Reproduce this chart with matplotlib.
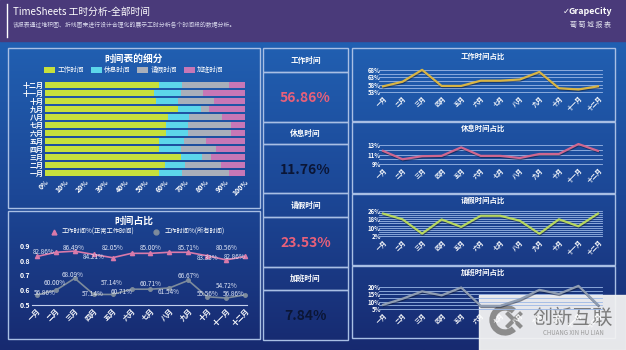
import matplotlib.pyplot as plt
import matplotlib.patheffects as pe
import numpy as np
from matplotlib.colors import LinearSegmentedColormap
from matplotlib.patches import Rectangle, Arc
from matplotlib.lines import Line2D

plt.rcParams['font.family'] = ['Noto Sans CJK SC', 'DejaVu Sans']

# 数据
months = ['一月', '二月', '三月', '四月', '五月', '六月', '七月', '八月', '九月', '十月', '十一月', '十二月']
work = [56.86, 60.00, 68.09, 57.14, 57.14, 60.71, 60.71, 61.54, 66.67, 55.56, 54.72, 56.86]
rest = [11.76, 10.00, 10.64, 10.71, 12.50, 10.71, 10.71, 10.26, 11.11, 11.11, 13.21, 11.76]
leave = [23.53, 18.00, 4.26, 17.86, 10.71, 21.43, 21.43, 16.67, 4.17, 18.06, 11.32, 23.53]
overtime = [7.84, 12.00, 17.02, 14.29, 19.64, 7.14, 7.14, 11.54, 18.06, 15.28, 20.75, 7.84]
work_normal = [82.86, 85.71, 86.49, 84.21, 82.05, 85.00, 85.00, 85.71, 85.71, 83.33, 80.56, 82.86]

kpi_names = ['工作时间', '休息时间', '请假时间', '加班时间']
kpi_values = ['56.86%', '11.76%', '23.53%', '7.84%']

# 标签偏移(像素), None = 不显示
pink_off = [(7, -4.5), None, (-1, -3), (0, 3), (0, -9.5), None, (0, -5.5), None,
            (0, -4.5), (0, 2.5), (1, -11.5), (-10, 0.5)]
gray_off = [(8, -2), (-1, -7), (-2, -3.5), (-1, -0.5), (-0.5, -11.5), (-9.5, 3), (0, -5),
            (-1, 4), (0, -4.5), (0, -3), (1, -12), (-11, -1)]

W, H = 626, 350
fig = plt.figure(figsize=(6.26, 3.5), dpi=100)


def box(x0, y0, x1, y1):
    # 像素坐标 -> figure 坐标
    return [x0 / W, 1 - y1 / H, (x1 - x0) / W, (y1 - y0) / H]


# 背景
bg = fig.add_axes([0, 0, 1, 1])
grad = np.linspace(0, 1, 256).reshape(-1, 1)
cmap = LinearSegmentedColormap.from_list('bg', ['#2160b2', '#1c4796', '#172a70'])
bg.imshow(grad, extent=[0, W, H, 40], aspect='auto', cmap=cmap)
bg.add_patch(Rectangle((0, 0), W, 41, color='#4a3a7a'))
bg.set_xlim(0, W)
bg.set_ylim(H, 0)
bg.axis('off')

bg.plot([7, 7], [4, 37], color='white', lw=1)
bg.text(13, 12, 'TimeSheets 工时分析-全部时间', color='white', fontsize=7, va='center')
bg.text(13, 25, '该报表通过堆积图、折线图来进行设计合理化的展示工时分析各个时间段的数据分析。',
        color='#d8d8ec', fontsize=4.2, va='center')
bg.text(612, 11, 'GrapeCity', color='white', fontsize=6.3, fontweight='bold', va='center', ha='right')
bg.text(566, 11, '✓', color='white', fontsize=6, va='center', ha='center', family='DejaVu Sans')
bg.text(590, 25, '葡 萄 城 报 表', color='#e0e0ec', fontsize=5, va='center', ha='center')

edge = '#a9bfe4'
# 面板边框
for (x0, y0, x1, y1) in [(8, 48, 260, 208), (8, 211, 260, 339),
                         (352, 48, 615, 121), (352, 122, 615, 193),
                         (352, 194, 615, 265), (352, 266, 615, 338)]:
    bg.add_patch(Rectangle((x0, y0), x1 - x0, y1 - y0, fill=False, ec=edge, lw=1))

# KPI 列
heads = [(48, 72), (122, 144), (193, 217), (267, 290)]
cells = [(72, 122), (144, 193), (217, 267), (290, 340)]
val_colors = ['#e8607a', '#0b1636', '#e8607a', '#0b1636']
for (h0, h1), (c0, c1), name, val, vc in zip(heads, cells, kpi_names, kpi_values, val_colors):
    bg.add_patch(Rectangle((263, h0), 85, h1 - h0, fill=False, ec=edge, lw=1))
    bg.add_patch(Rectangle((263, c0), 85, c1 - c0, fill=False, ec=edge, lw=1))
    bg.text(305.5, (h0 + h1) / 2, name, color='white', fontsize=5.5, fontweight='bold',
            ha='center', va='center')
    bg.text(305.5, (c0 + c1) / 2 + 1, val, color=vc, fontsize=10, fontweight='bold',
            ha='center', va='center')

# 堆积条形图
bar_colors = ['#c6e03c', '#5cd6ea', '#a9afba', '#c777b6']
ax1 = fig.add_axes(box(45, 81, 245, 177))
ax1.set_facecolor('none')
yy = np.arange(len(months))
parts = np.array([work, rest, leave, overtime])
parts = parts / parts.sum(axis=0) * 100
left = np.zeros(len(months))
for vals, c, name in zip(parts, bar_colors, kpi_names):
    ax1.barh(yy, vals, left=left, height=0.74, color=c, label=name)
    left += vals
ax1.set_xlim(0, 100)
ax1.set_ylim(-0.5, 11.5)
ax1.set_xticks(np.arange(0, 101, 10), [f'{t}%' for t in range(0, 101, 10)])
ax1.set_yticks(yy, months)
ax1.tick_params(length=0, colors='white', labelsize=5, pad=1)
for lb in ax1.get_xticklabels():
    lb.set_rotation(45)
    lb.set_ha('right')
    lb.set_rotation_mode('anchor')
    lb.set_fontweight('bold')
for lb in ax1.get_yticklabels():
    lb.set_fontweight('bold')
for s in ax1.spines.values():
    s.set_visible(False)
ax1.legend(loc='center', bbox_to_anchor=(134 / W, 1 - 70 / H), bbox_transform=fig.transFigure,
           ncol=4, frameon=False, fontsize=4.8, labelcolor='white', handlelength=1.6,
           handleheight=1.1, columnspacing=1.0, handletextpad=0.4)
bg.text(134, 59, '时间表的细分', color='white', fontsize=7, fontweight='bold', ha='center', va='center')

# 时间占比折线
x = np.arange(len(months))
ax2 = fig.add_axes(box(32, 243, 247, 305))
ax2.set_facecolor('none')
wn = np.array(work_normal) / 100
wa = np.array(work) / 100
ax2.plot(x, wn, color='#d97aaa', lw=1.2, marker='^', ms=3, clip_on=False)
ax2.plot(x, wa, color='#7d8b9c', lw=1.2, marker='o', ms=2.5, clip_on=False)
for i in range(len(months)):
    if pink_off[i] is not None:
        dx, dy = pink_off[i]
        ax2.annotate(f'{work_normal[i]:.2f}%', (x[i], wn[i]), xytext=(dx * 0.72, -dy * 0.72),
                     textcoords='offset points', ha='center', va='center', fontsize=4.6,
                     color='#dfe6f6', annotation_clip=False)
    dx, dy = gray_off[i]
    ax2.annotate(f'{work[i]:.2f}%', (x[i], wa[i]), xytext=(dx * 0.72, -dy * 0.72),
                 textcoords='offset points', ha='center', va='center', fontsize=4.6,
                 color='#dfe6f6', annotation_clip=False)
ax2.set_xlim(-0.26, 11.1)
ax2.set_ylim(0.5, 0.92)
ax2.set_yticks([0.5, 0.6, 0.7, 0.8, 0.9], ['0.5', '0.6', '0.7', '0.8', '0.9'])
ax2.set_xticks(x, months)
ax2.tick_params(length=0, colors='white', labelsize=5, pad=1.5)
for lb in ax2.get_xticklabels():
    lb.set_rotation(45)
    lb.set_ha('right')
    lb.set_rotation_mode('anchor')
    lb.set_fontweight('bold')
for lb in ax2.get_yticklabels():
    lb.set_fontweight('bold')
for k, s in ax2.spines.items():
    s.set_visible(k == 'bottom')
ax2.spines['bottom'].set_color('#c4d0ec')
handles = [Line2D([], [], color='#d97aaa', marker='^', ls='none', ms=3.5),
           Line2D([], [], color='#7d8b9c', marker='o', ls='none', ms=3.5)]
ax2.legend(handles, ['工作时间%(正常工作时间)', '工作时间%(所有时间)'], loc='center',
           bbox_to_anchor=(136 / W, 1 - 232 / H), bbox_transform=fig.transFigure, ncol=2,
           frameon=False, fontsize=4.5, labelcolor='white', handletextpad=0.3, columnspacing=2.5)
bg.text(134, 221, '时间占比', color='white', fontsize=7, fontweight='bold', ha='center', va='center')


# 右侧小折线图
def small_chart(y0, y1, vals, lo, hi, ticks, step, color, title, ty):
    ax = fig.add_axes(box(383, y0, 598, y1))
    ax.set_facecolor('none')
    for g in np.arange(lo, hi + 0.01, step):
        ax.axhline(g, color='#9cb8e6', lw=0.6, xmin=-0.02, xmax=1.02, clip_on=False)
    ax.plot(x, vals, color=color, lw=1.6, clip_on=False,
            path_effects=[pe.SimpleLineShadow(offset=(0.4, -0.8), shadow_color='#101830', alpha=0.5),
                          pe.Normal()])
    ax.set_xlim(0, 11)
    ax.set_ylim(lo, hi)
    ax.set_yticks(ticks, [f'{t}%' for t in ticks])
    ax.set_xticks(x, months)
    ax.tick_params(length=0, colors='white', labelsize=4.3, pad=1.5)
    for lb in ax.get_xticklabels():
        lb.set_rotation(45)
        lb.set_ha('right')
        lb.set_rotation_mode('anchor')
        lb.set_fontweight('bold')
    for lb in ax.get_yticklabels():
        lb.set_fontweight('bold')
    for s in ax.spines.values():
        s.set_visible(False)
    bg.text(483, ty, title, color='white', fontsize=5.3, fontweight='bold', ha='center', va='center')


small_chart(70, 92, work, 53, 68, [53, 58, 63, 68], 2.5, '#d8b443', '工作时间占比', 56)
small_chart(145, 164, rest, 9, 13, [9, 11, 13], 1, '#d0678f', '休息时间占比', 128)
small_chart(211, 236, leave, 2, 26, [2, 10, 18, 26], 2, '#b6d75e', '请假时间占比', 200)
small_chart(287, 309, overtime, 5, 20, [5, 10, 15, 20], 2.5, '#8f9db2', '加班时间占比', 272)

# 水印
bg.add_patch(Rectangle((479, 295), W - 479, H - 295, color='#f2f2f2', alpha=0.95, zorder=10))
bg.add_patch(Arc((505, 320), 25, 25, theta1=45, theta2=315, lw=4.5, color='#8c8c8c', zorder=11))
bg.plot([508, 520], [314, 326], color='#8c8c8c', lw=3, zorder=11)
bg.plot([508, 520], [326, 314], color='#8c8c8c', lw=3, zorder=11)
bg.text(573, 318, '创新互联', color='#7c7c7c', fontsize=14.5, ha='center', va='center', zorder=11)
bg.text(573, 333, 'CHUANG XIN HU LIAN', color='#9a9a9a', fontsize=4.4, ha='center', va='center', zorder=11)

fig.savefig('out.png', dpi=100)
